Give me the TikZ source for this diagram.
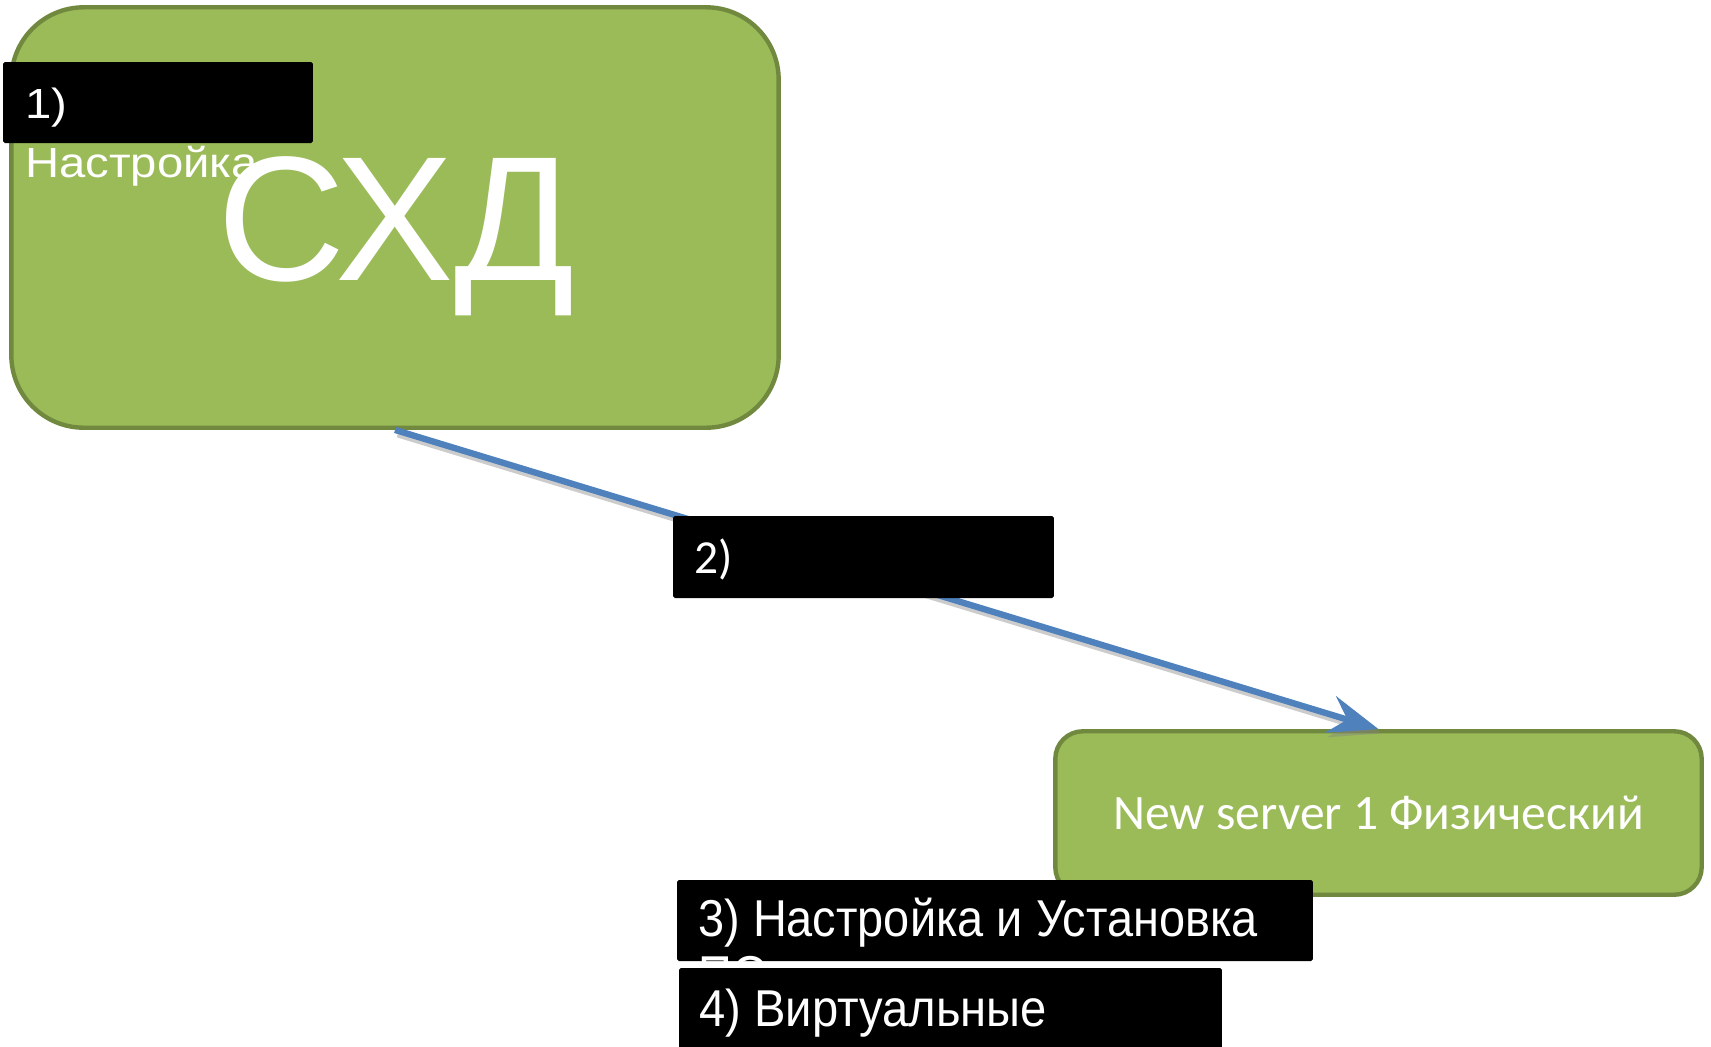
\documentclass[tikz,border=0pt]{standalone}
\usepackage{fontspec}
\setmainfont{Liberation Sans}
\newfontfamily\calibrifont{Carlito}
\usetikzlibrary{positioning, arrows.meta}

\definecolor{skdgreen}{HTML}{9BBB59}
\definecolor{skdedge}{HTML}{71893F}
\definecolor{linkblue}{HTML}{4F81BD}

\begin{document}
\begin{tikzpicture}[
    x=0.02cm, y=-0.02cm,
    every edge/.style={draw, line width=3.6pt},
    greenbox/.style={draw=skdedge, fill=skdgreen, line width=2.5pt},
    blackbox/.style={fill=black, rounded corners=1pt, inner sep=0pt},
    label/.style={text=white, inner sep=0pt, align=left, anchor=base west},
    linkarrow/.style={draw=linkblue, -{Stealth[length=1cm, width=0.76cm, inset=0.35cm]}},
    linkshadow/.style={draw=black!50, opacity=0.4, -{Stealth[length=1cm, width=0.76cm, inset=0.35cm]}}]

    \clip (0,0) rectangle (1711,1046);

    \node at (395,217.5) [greenbox, rounded corners=1.45cm, minimum width=15.35cm, minimum height=8.41cm] (skd) {};
    \node at (1378.5,813) [greenbox, rounded corners=0.55cm, minimum width=12.93cm, minimum height=3.27cm,
        text=white, font=\calibrifont\fontsize{28.2}{28.2}\selectfont] (srv) {New server 1 Физический};

    \node at (158,102.5) [blackbox, minimum width=6.2cm, minimum height=1.62cm] (step1) {};
    \begin{scope}[shift={(25,177)}, xscale=1.12, transform shape]
        \node at (0,0) [label, font=\fontsize{24}{33.4}\selectfont] (step1txt) {1)\\Настройка};
    \end{scope}
    \node at (396,280) [label, anchor=base, font=\fontsize{101}{101}\selectfont] (skdtxt) {СХД};

    \path[transform canvas={shift={(1.5pt,-2.5pt)}}] (skd.south) edge [linkshadow] (srv.north);
    \path (skd.south) edge [linkarrow] (srv.north);

    \node at (863.5,557) [blackbox, minimum width=7.62cm, minimum height=1.64cm] (step2) {};
    \node at (694,573) [label, font=\calibrifont\fontsize{27}{27}\selectfont] (step2txt) {2)};

    \node at (995,920.5) [blackbox, minimum width=12.72cm, minimum height=1.62cm] (step3) {};
    \begin{scope}[shift={(698,992)}, xscale=0.905, transform shape]
        \node at (0,0) [label, font=\fontsize{29.5}{31.7}\selectfont] (step3txt) {3) Настройка и Установка\\ПО};
    \end{scope}

    \node at (950.5,1009) [blackbox, minimum width=10.86cm, minimum height=1.64cm] (step4) {};
    \begin{scope}[shift={(699,1026)}, xscale=0.91, transform shape]
        \node at (0,0) [label, font=\fontsize{29.5}{31.7}\selectfont] (step4txt) {4) Виртуальные};
    \end{scope}

\end{tikzpicture}
\end{document}
